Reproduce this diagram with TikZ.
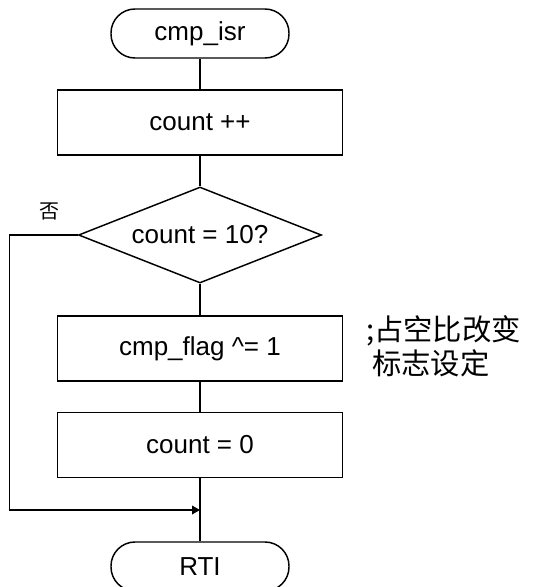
\documentclass[tikz,border=0pt]{standalone}
\usepackage{fontspec}
\setmainfont{Liberation Sans}
\newfontfamily\cjk{Noto Sans CJK SC}
\usetikzlibrary{shapes.geometric,arrows.meta}

\tikzset{
  term/.style={draw, rounded corners=18pt, minimum width=133.5pt, minimum height=36.75pt},
  proc/.style={draw, minimum width=213.75pt, minimum height=48.75pt},
  decide/.style={draw, diamond, aspect=2.53, inner sep=0pt, minimum width=182.25pt, minimum height=72pt},
}

\begin{document}
\begin{tikzpicture}[x=0.75pt,y=-0.75pt,line width=1.1pt,font=\fontsize{19.5}{23}\selectfont]
    \useasboundingbox (0,0) rectangle (533,587);
    \node [term]   (start) at (200,33.5)  {cmp\_isr};
    \node [proc]   (inc)   at (200,122.5) {count ++};
    \node [decide] (chk)   at (200,235)   {count = 10?};
    \node [proc]   (flag)  at (200,348.5) {cmp\_flag \^{}= 1};
    \node [proc]   (clr)   at (200,445)   {count = 0};
    \node [term]   (rti)   at (200,566.5) {RTI};
    \coordinate (merge) at (200,510);

    \draw (start) -- (inc);
    \draw (inc) -- (chk);
    \draw (chk) -- (flag);
    \draw (flag) -- (clr);
    \draw (clr) -- (rti);
    \draw [-{Triangle[length=6pt,width=6.5pt]}] (chk.west) -- ++(-68,0) |- (merge);

    \node [font=\cjk\fontsize{15}{17}\selectfont] (no) at (50,211) {否};
    \node [font=\cjk\fontsize{22}{25.5}\selectfont, align=left, anchor=west] (note) at (361,346)
        {;占空比改变\\\hspace{0.2em}标志设定};
\end{tikzpicture}
\end{document}
